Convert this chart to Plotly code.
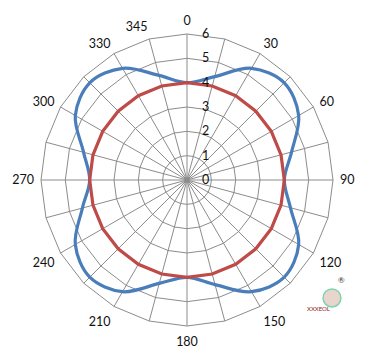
import plotly.graph_objects as go

angles = [str(a) for a in range(0, 360, 15)]
tick_text = ["0", "", "30", "", "60", "", "90", "", "120", "", "150", "",
             "180", "", "210", "", "240", "", "270", "", "300", "", "330", "345"]

# blue series (smoothed), read at every 15 degrees
blue = [4.0, 4.4, 5.3, 5.65, 5.3, 4.45,
        4.0, 4.4, 5.3, 5.65, 5.3, 4.45,
        4.0, 4.4, 5.3, 5.65, 5.3, 4.45,
        4.0, 4.4, 5.3, 5.65, 5.3, 4.45]
# red series
red = [4.0] * 24

radial_ticks = [0, 1, 2, 3, 4, 5, 6]

fig = go.Figure()
fig.add_trace(go.Scatterpolar(
    r=blue + blue[:1], theta=angles + angles[:1], mode="lines",
    line=dict(color="#4A7EBB", width=3.2, shape="spline", smoothing=1.0),
    showlegend=False, hoverinfo="skip"))
fig.add_trace(go.Scatterpolar(
    r=red + red[:1], theta=angles + angles[:1], mode="lines",
    line=dict(color="#BE4B48", width=3.2),
    showlegend=False, hoverinfo="skip"))

fig.update_layout(
    width=373, height=362,
    margin=dict(l=41, r=40, t=34, b=36),
    paper_bgcolor="white", plot_bgcolor="white",
    font=dict(family="Lato, Liberation Sans, sans-serif", size=12, color="#111"),
    polar=dict(
        bgcolor="white",
        gridshape="linear",
        angularaxis=dict(
            type="category", categoryarray=angles,
            direction="clockwise", rotation=90,
            tickmode="array", tickvals=angles, ticktext=tick_text,
            showline=True, linecolor="#8c8c8c", linewidth=1,
            gridcolor="#8c8c8c", gridwidth=1,
            ticks="outside", ticklen=4, tickcolor="rgba(0,0,0,0)",
            tickfont=dict(size=12.5, color="#111"),
        ),
        radialaxis=dict(
            range=[0, 6], tickvals=radial_ticks, ticktext=[str(v) for v in radial_ticks],
            angle=90, side="clockwise", tickangle=90,
            showline=False, gridcolor="#8c8c8c", gridwidth=1,
            ticks="outside", ticklen=12, tickcolor="rgba(0,0,0,0)",
            tickfont=dict(size=12.5, color="#111"),
        ),
    ),
)

# small watermark logo
fig.add_shape(type="circle", xref="paper", yref="paper",
              x0=0.966, x1=1.027, y0=0.065, y1=0.127,
              line=dict(color="#7fd3b0", width=1.5), fillcolor="#e8d5cc")
fig.add_annotation(text="XXXEOL", xref="paper", yref="paper", x=0.997, y=0.041,
                   showarrow=False, font=dict(size=6, color="#8b1a1a"))
fig.add_annotation(text="®", xref="paper", yref="paper", x=1.048, y=0.135,
                   showarrow=False, font=dict(size=8, color="#333"))

fig.write_html("out.html")
